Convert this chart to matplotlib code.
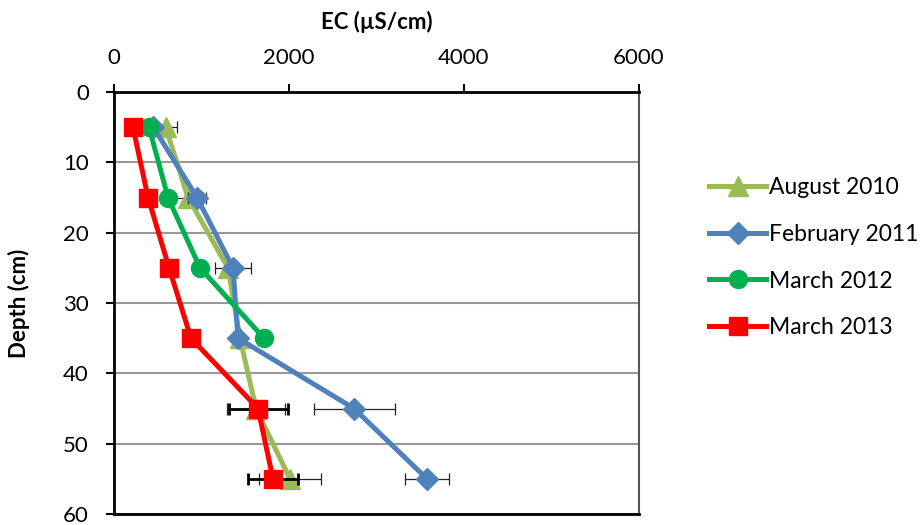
import matplotlib.pyplot as plt
import numpy as np

plt.rcParams['font.family'] = ['Lato', 'DejaVu Sans']

depth = [5, 15, 25, 35, 45, 55]

aug_2010 = [590, 846, 1303, 1440, 1623, 2011]
aug_2010_err = [130, 170, 0, 0, 330, 354]
feb_2011 = [450, 949, 1360, 1417, 2743, 3577]
feb_2011_err = [0, 100, 211, 30, 463, 257]
mar_2012_depth = [5, 15, 25, 35]
mar_2012 = [400, 617, 983, 1714]
mar_2013 = [217, 389, 629, 880, 1646, 1817]
mar_2013_err = [0, 0, 0, 0, 337, 286]

fig = plt.figure(figsize=(9.24, 5.25), dpi=100)
ax = fig.add_axes([114 / 924, 1 - 514 / 525, 525 / 924, 422 / 525])

# thin error bars for the first two series, thick ones for March 2013
ax.errorbar(aug_2010, depth, xerr=aug_2010_err, fmt='none', ecolor='#222222',
            elinewidth=0.9, capsize=4, capthick=0.9, zorder=2)
ax.plot(aug_2010, depth, color='#9BBB59', lw=3.6, marker='^', ms=14,
        label='August 2010', zorder=3)
ax.errorbar(feb_2011, depth, xerr=feb_2011_err, fmt='none', ecolor='#222222',
            elinewidth=0.9, capsize=4, capthick=0.9, zorder=4)
ax.plot(feb_2011, depth, color='#4F81BD', lw=3.6, marker='D', ms=11,
        label='February 2011', zorder=5)
ax.plot(mar_2012, mar_2012_depth, color='#00B050', lw=3.6, marker='o', ms=13,
        label='March 2012', zorder=6)
ax.errorbar(mar_2013, depth, xerr=mar_2013_err, fmt='none', ecolor='black',
            elinewidth=2, capsize=4, capthick=2, zorder=7)
ax.plot(mar_2013, depth, color='#FF0000', lw=3.6, marker='s', ms=13,
        label='March 2013', zorder=8)

ax.set_xlim(0, 6000)
ax.set_ylim(60, 0)
ax.set_xticks([0, 2000, 4000, 6000])
ax.set_yticks(np.arange(0, 61, 10))
ax.xaxis.tick_top()
ax.xaxis.set_label_position('top')
ax.tick_params(axis='both', labelsize=16, direction='out', length=6, width=1.5)
ax.tick_params(axis='y', pad=12)
ax.tick_params(axis='x', pad=11)
ax.yaxis.grid(True, color='#999999', lw=1.5)
ax.set_axisbelow(True)
for side in ['top', 'left', 'bottom']:
    ax.spines[side].set_linewidth(2)
ax.spines['right'].set_color('#555555')
ax.spines['right'].set_linewidth(1.5)

ax.set_xlabel('EC (µS/cm)', fontsize=16, fontweight='bold', labelpad=14)
ax.set_ylabel('Depth (cm)', fontsize=16, fontweight='bold', labelpad=24)

fig.legend(loc='upper left', bbox_to_anchor=(700 / 924, 1 - 168 / 525),
           frameon=False, fontsize=16.5, handlelength=2.5, handletextpad=0.1,
           labelspacing=1.12, borderaxespad=0)

fig.savefig('out.png', dpi=100)
